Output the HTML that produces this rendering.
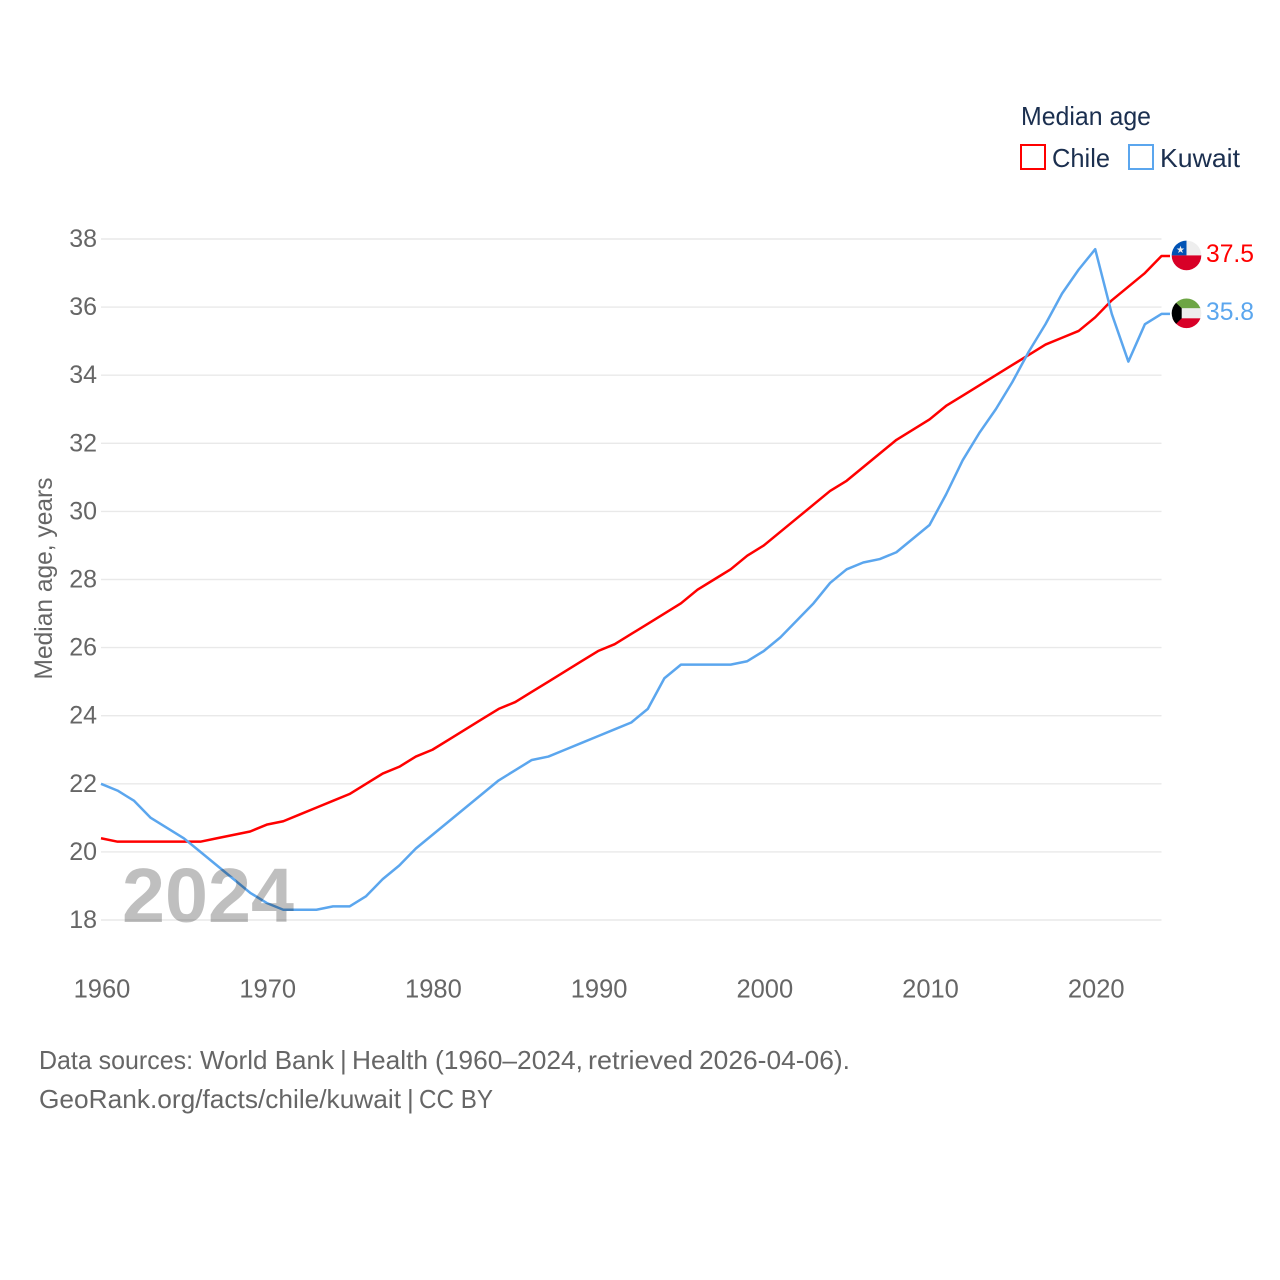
<!DOCTYPE html>
<html lang="en">
<head>
<meta charset="utf-8">
<title>Median age: Chile and Kuwait</title>
<style>
html,body{margin:0;padding:0;background:#fff;width:1280px;height:1280px;overflow:hidden}
svg{display:block;font-family:"Liberation Sans",sans-serif}
</style>
</head>
<body>
<svg id="chart" width="1280" height="1280" viewBox="0 0 1280 1280" xmlns="http://www.w3.org/2000/svg">
  <defs>
    <clipPath id="flag-clip-cl"><circle cx="1186.500" cy="255.400" r="14.800"/></clipPath>
    <clipPath id="flag-clip-kw"><circle cx="1186.500" cy="313.300" r="14.800"/></clipPath>
  </defs>
  <rect width="1280" height="1280" fill="#fff"/>
  <g id="grid"></g>
  <g id="yticks"></g>
  <g id="xticks"></g>
  <text transform="translate(52,679.500) rotate(-90)" font-size="25" fill="#666" textLength="202" lengthAdjust="spacingAndGlyphs">Median age, years</text>
  <g id="series"></g>
  <text x="122" y="922" font-size="77" font-weight="700" fill="#000" fill-opacity="0.25" textLength="172" lengthAdjust="spacingAndGlyphs">2024</text>

  <g>
    <text x="1021" y="125" font-size="26" fill="#1b2f4f" textLength="130" lengthAdjust="spacingAndGlyphs">Median age</text>
    <g>
      <rect x="1021" y="145" width="24" height="24" fill="#fff" stroke="#ff0000" stroke-width="2"/>
      <text x="1052" y="167" font-size="26" fill="#1b2f4f" textLength="58" lengthAdjust="spacingAndGlyphs">Chile</text>
    </g>
    <g>
      <rect x="1129" y="145" width="24" height="24" fill="#fff" stroke="#5ba6ee" stroke-width="2"/>
      <text x="1160" y="167" font-size="26" fill="#1b2f4f" textLength="80" lengthAdjust="spacingAndGlyphs">Kuwait</text>
    </g>
  </g>

  <g clip-path="url(#flag-clip-cl)">
    <rect x="1171" y="240" width="31" height="15.400" fill="#eeeeee"/>
    <rect x="1171" y="240" width="15.500" height="15.400" fill="#0052b4"/>
    <rect x="1171" y="255.400" width="31" height="16" fill="#d80027"/>
    <text x="1180.500" y="253" font-size="10" text-anchor="middle" fill="#eeeeee">★</text>
  </g>
  <g clip-path="url(#flag-clip-kw)">
    <rect x="1171" y="298" width="31" height="10.300" fill="#6da544"/>
    <rect x="1171" y="308.300" width="31" height="10" fill="#eeeeee"/>
    <rect x="1171" y="318.300" width="31" height="11" fill="#d80027"/>
    <polygon points="1171,298 1181.700,308.300 1181.700,318.300 1171,329" fill="#000"/>
  </g>
  <text id="end-chile" x="1206" y="262" font-size="25" fill="#ff0000" textLength="48" lengthAdjust="spacingAndGlyphs"></text>
  <text id="end-kuwait" x="1206" y="320" font-size="25" fill="#5ba6ee" textLength="48" lengthAdjust="spacingAndGlyphs"></text>

  <text y="1069" font-size="26" fill="#666"><tspan x="39" textLength="154" lengthAdjust="spacingAndGlyphs">Data sources:</tspan> <tspan x="200" textLength="134" lengthAdjust="spacingAndGlyphs">World Bank</tspan> <tspan x="340">|</tspan> <tspan x="352" textLength="76" lengthAdjust="spacingAndGlyphs">Health</tspan> <tspan x="435" textLength="148" lengthAdjust="spacingAndGlyphs">(1960–2024,</tspan> <tspan x="588" textLength="105" lengthAdjust="spacingAndGlyphs">retrieved</tspan> <tspan x="699" textLength="151" lengthAdjust="spacingAndGlyphs">2026-04-06).</tspan></text>
  <text y="1108" font-size="26" fill="#666"><tspan x="39" textLength="362" lengthAdjust="spacingAndGlyphs">GeoRank.org/facts/chile/kuwait</tspan> <tspan x="407">|</tspan> <tspan x="419" textLength="74" lengthAdjust="spacingAndGlyphs">CC BY</tspan></text>
</svg>
<script>
const startYear = 1960;
const yTickValues = [18, 20, 22, 24, 26, 28, 30, 32, 34, 36, 38];
const xTickValues = [1960, 1970, 1980, 1990, 2000, 2010, 2020];
const chileValues = [20.4, 20.3, 20.3, 20.3, 20.3, 20.3, 20.3, 20.4, 20.5, 20.6,
  20.8, 20.9, 21.1, 21.3, 21.5, 21.7, 22.0, 22.3, 22.5, 22.8,
  23.0, 23.3, 23.6, 23.9, 24.2, 24.4, 24.7, 25.0, 25.3, 25.6,
  25.9, 26.1, 26.4, 26.7, 27.0, 27.3, 27.7, 28.0, 28.3, 28.7,
  29.0, 29.4, 29.8, 30.2, 30.6, 30.9, 31.3, 31.7, 32.1, 32.4,
  32.7, 33.1, 33.4, 33.7, 34.0, 34.3, 34.6, 34.9, 35.1, 35.3,
  35.7, 36.2, 36.6, 37.0, 37.5];
const kuwaitValues = [22.0, 21.8, 21.5, 21.0, 20.7, 20.4, 20.0, 19.6, 19.2, 18.8,
  18.5, 18.3, 18.3, 18.3, 18.4, 18.4, 18.7, 19.2, 19.6, 20.1,
  20.5, 20.9, 21.3, 21.7, 22.1, 22.4, 22.7, 22.8, 23.0, 23.2,
  23.4, 23.6, 23.8, 24.2, 25.1, 25.5, 25.5, 25.5, 25.5, 25.6,
  25.9, 26.3, 26.8, 27.3, 27.9, 28.3, 28.5, 28.6, 28.8, 29.2,
  29.6, 30.5, 31.5, 32.3, 33.0, 33.8, 34.7, 35.5, 36.4, 37.1,
  37.7, 35.8, 34.4, 35.5, 35.8];

const NS = 'http://www.w3.org/2000/svg';
const xScale = function (year) { return 101 + (year - 1960) * (1060.5 / 64); };
const yScale = function (v) { return 920 - (v - 18) * (681 / 20); };

const grid = document.getElementById('grid');
const yticks = document.getElementById('yticks');
const xticks = document.getElementById('xticks');
const series = document.getElementById('series');

yTickValues.forEach(function (v) {
  const line = document.createElementNS(NS, 'line');
  
  
  line.setAttribute('x1', 101);
  line.setAttribute('x2', 1161.5);
  line.setAttribute('y1', yScale(v));
  line.setAttribute('y2', yScale(v));
  line.setAttribute('stroke', '#e9e9e9');
  line.setAttribute('stroke-width', 1.4);
  grid.appendChild(line);

  const label = document.createElementNS(NS, 'text');
  
  
  label.setAttribute('x', 97);
  label.setAttribute('y', yScale(v) + 8);
  label.setAttribute('text-anchor', 'end');
  label.setAttribute('font-size', 25);
  label.setAttribute('fill', '#666');
  label.textContent = String(v);
  yticks.appendChild(label);
});

xTickValues.forEach(function (year) {
  const label = document.createElementNS(NS, 'text');
  
  
  label.setAttribute('x', xScale(year) + 1);
  label.setAttribute('y', 997.5);
  label.setAttribute('text-anchor', 'middle');
  label.setAttribute('font-size', 25.5);
  label.setAttribute('fill', '#666');
  label.textContent = String(year);
  xticks.appendChild(label);
});

function drawSeries(values, color, name) {
  const pts = values.map(function (v, i) {
    return xScale(startYear + i).toFixed(2) + ',' + yScale(v).toFixed(2);
  });
  const last = values[values.length - 1];
  pts.push('1170,' + yScale(last).toFixed(2));
  const line = document.createElementNS(NS, 'polyline');
  
  
  line.setAttribute('points', pts.join(' '));
  line.setAttribute('fill', 'none');
  line.setAttribute('stroke', color);
  line.setAttribute('stroke-width', 2.5);
  line.setAttribute('stroke-linejoin', 'round');
  series.appendChild(line);
}
drawSeries(chileValues, '#ff0000', 'line-chile');
drawSeries(kuwaitValues, '#5ba6ee', 'line-kuwait');

document.getElementById('end-chile').textContent = chileValues[chileValues.length - 1].toFixed(1);
document.getElementById('end-kuwait').textContent = kuwaitValues[kuwaitValues.length - 1].toFixed(1);
</script>
</body>
</html>
